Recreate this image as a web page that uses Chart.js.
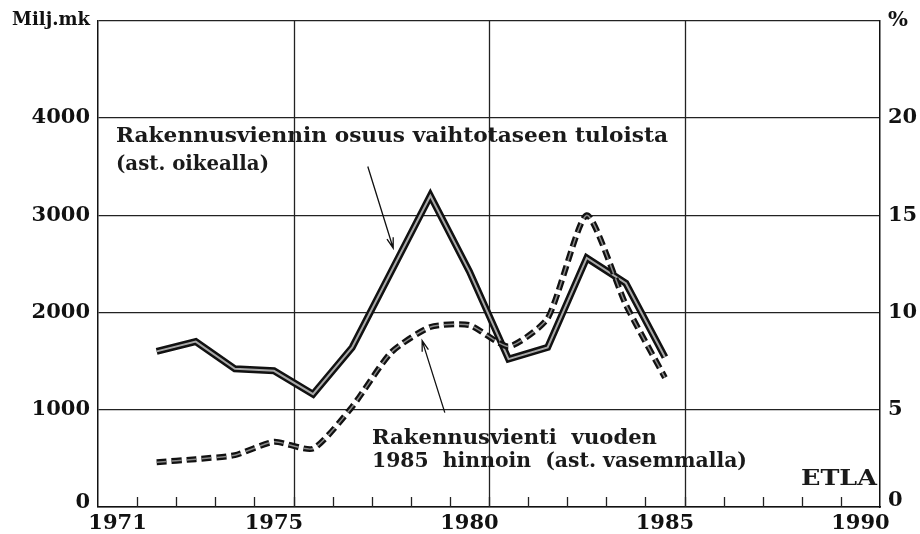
<!DOCTYPE html>
<html>
<head>
<meta charset="utf-8">
<script src="https://cdn.jsdelivr.net/npm/chart.js@4"></script>
<style>
  body { margin: 0; background: #fff; }
  canvas { display: block; }
</style>
</head>
<body>
<canvas id="chart" width="920" height="534"></canvas>
<script>
// data
const years = [1972, 1973, 1974, 1975, 1976, 1977, 1978, 1979, 1980, 1981, 1982, 1983, 1984, 1985];
// Rakennusviennin osuus vaihtotaseen tuloista, % (right axis)
const shareOfIncome = [8.0, 8.5, 7.1, 7.0, 5.8, 8.2, 12.1, 16.0, 12.1, 7.6, 8.2, 12.8, 11.5, 7.7];
// Rakennusvienti vuoden 1985 hinnoin, Milj.mk (left axis)
const exportVolume = [461, 492, 533, 670, 600, 1030, 1590, 1850, 1870, 1650, 1940, 3000, 2080, 1330];

const leftTicks = [0, 1000, 2000, 3000, 4000, 5000];
const rightTicks = [0, 5, 10, 15, 20, 25];
const xLabels = [1971, 1975, 1980, 1985, 1990];
const xGridYears = [1975.5, 1980.5, 1985.5];

const INK = '#111';
const SERIF = "'DejaVu Serif', 'Liberation Serif', serif";

const toPoints = vals => years.map((y, i) => ({ x: y, y: vals[i] }));

// draw text stretched horizontally to a given width (the original type is wide)
function fitText(ctx, text, x, y, width, align) {
  const w = ctx.measureText(text).width;
  const k = width / w;
  ctx.save();
  ctx.textAlign = 'left';
  ctx.translate(align === 'right' ? x - width : x, y);
  ctx.scale(k, 1);
  ctx.fillText(text, 0, 0);
  ctx.restore();
}

function arrow(ctx, x1, y1, x2, y2) {
  const a = Math.atan2(y2 - y1, x2 - x1);
  const len = 11, spread = 0.3;
  ctx.beginPath();
  ctx.moveTo(x1, y1);
  ctx.lineTo(x2, y2);
  ctx.moveTo(x2 - len * Math.cos(a - spread), y2 - len * Math.sin(a - spread));
  ctx.lineTo(x2, y2);
  ctx.lineTo(x2 - len * Math.cos(a + spread), y2 - len * Math.sin(a + spread));
  ctx.stroke();
}

const framePlugin = {
  id: 'frame',
  beforeDatasetsDraw(chart) {
    const { ctx, chartArea, scales } = chart;
    const xs = scales.x;
    ctx.save();
    ctx.strokeStyle = '#222';
    ctx.lineWidth = 1.3;
    // vertical grid lines
    xGridYears.forEach(v => {
      const px = Math.round(xs.getPixelForValue(v)) + 0.5;
      ctx.beginPath();
      ctx.moveTo(px, chartArea.top);
      ctx.lineTo(px, chartArea.bottom);
      ctx.stroke();
    });
    // short inward ticks at year boundaries
    for (let v = xs.min + 1; v < xs.max; v += 1) {
      const px = Math.round(xs.getPixelForValue(v)) + 0.5;
      ctx.beginPath();
      ctx.moveTo(px, chartArea.bottom);
      ctx.lineTo(px, chartArea.bottom - 10);
      ctx.stroke();
    }
    ctx.restore();
  },
  afterDraw(chart) {
    const { ctx, chartArea, scales } = chart;
    const xs = scales.x, yl = scales.yL, yr = scales.yR;
    ctx.save();
    ctx.fillStyle = INK;
    ctx.textBaseline = 'alphabetic';

    // zero labels sit on the axis line
    ctx.font = `bold 21px ${SERIF}`;
    const y0 = yl.getPixelForValue(0) + 1;
    ctx.textAlign = 'right';
    ctx.fillText('0', chartArea.left - 8, y0);
    ctx.textAlign = 'left';
    ctx.fillText('0', chartArea.right + 8, y0 - 2);

    // annotations
    ctx.fillStyle = '#1a1a1a';
    ctx.font = `bold 20px ${SERIF}`;
    fitText(ctx, 'Rakennusviennin osuus vaihtotaseen tuloista', 116, 142, 552);
    fitText(ctx, '(ast. oikealla)', 116, 170, 153);
    fitText(ctx, 'Rakennusvienti  vuoden', 372, 444, 285);
    fitText(ctx, '1985  hinnoin  (ast. vasemmalla)', 372, 467, 375);
    ctx.font = `bold 22px ${SERIF}`;
    fitText(ctx, 'ETLA', chartArea.right - 3, 485, 76, 'right');

    ctx.strokeStyle = INK;
    ctx.lineWidth = 1.3;
    arrow(ctx, xs.getPixelForValue(1977.4), yr.getPixelForValue(17.5),
               xs.getPixelForValue(1978.05), yr.getPixelForValue(13.3));
    arrow(ctx, xs.getPixelForValue(1979.37), yl.getPixelForValue(970),
               xs.getPixelForValue(1978.79), yl.getPixelForValue(1710));
    ctx.restore();
  }
};

const tickFont = c => ({
  family: SERIF,
  weight: 'bold',
  size: c.tick && (c.tick.value === 5000) ? 18 : 21
});

new Chart(document.getElementById('chart'), {
  type: 'line',
  data: {
    datasets: [
      {
        data: toPoints(shareOfIncome), yAxisID: 'yR',
        borderColor: '#111', borderWidth: 7, borderJoinStyle: 'miter',
        pointRadius: 0, tension: 0, order: 4
      },
      {
        data: toPoints(shareOfIncome), yAxisID: 'yR',
        borderColor: '#a8a8a8', borderWidth: 2, borderJoinStyle: 'miter',
        pointRadius: 0, tension: 0, order: 3
      },
      {
        data: toPoints(exportVolume), yAxisID: 'yL',
        borderColor: '#111', borderWidth: 6, borderDash: [10, 5],
        pointRadius: 0, tension: 0.2, order: 2
      },
      {
        data: toPoints(exportVolume), yAxisID: 'yL',
        borderColor: '#8a8a8a', borderWidth: 1.5, borderDash: [10, 5],
        pointRadius: 0, tension: 0.2, order: 1
      }
    ]
  },
  options: {
    responsive: false,
    animation: false,
    devicePixelRatio: 1,
    layout: { padding: { top: 18, left: 0, right: 0, bottom: 0 } },
    plugins: { legend: { display: false }, tooltip: { enabled: false } },
    scales: {
      x: {
        type: 'linear', min: 1970.5, max: 1990.5,
        afterBuildTicks: s => { s.ticks = xLabels.map(v => ({ value: v })); },
        afterFit: s => { s.height = 27; },
        grid: { display: false, drawTicks: false },
        border: { display: true, color: '#111', width: 1.5 },
        ticks: {
          autoSkip: false, maxRotation: 0, padding: 4, color: INK,
          font: { family: SERIF, weight: 'bold', size: 21 },
          callback: v => String(v)
        }
      },
      yL: {
        position: 'left', min: 0, max: 5000,
        afterBuildTicks: s => { s.ticks = leftTicks.map(v => ({ value: v })); },
        afterFit: s => { s.width = 98; },
        grid: { color: '#222', lineWidth: 1.3, drawTicks: false },
        border: { display: true, color: '#111', width: 1.5 },
        ticks: {
          padding: 8, color: INK, font: tickFont,
          callback: v => v === 5000 ? 'Milj.mk' : (v === 0 ? '' : String(v))
        }
      },
      yR: {
        position: 'right', min: 0, max: 25,
        afterBuildTicks: s => { s.ticks = rightTicks.map(v => ({ value: v })); },
        afterFit: s => { s.width = 40; },
        grid: { display: false, drawTicks: false },
        border: { display: true, color: '#111', width: 1.5 },
        ticks: {
          padding: 8, color: INK, font: { family: SERIF, weight: 'bold', size: 21 },
          callback: v => v === 25 ? '%' : (v === 0 ? '' : String(v))
        }
      }
    }
  },
  plugins: [framePlugin]
});
</script>
</body>
</html>
